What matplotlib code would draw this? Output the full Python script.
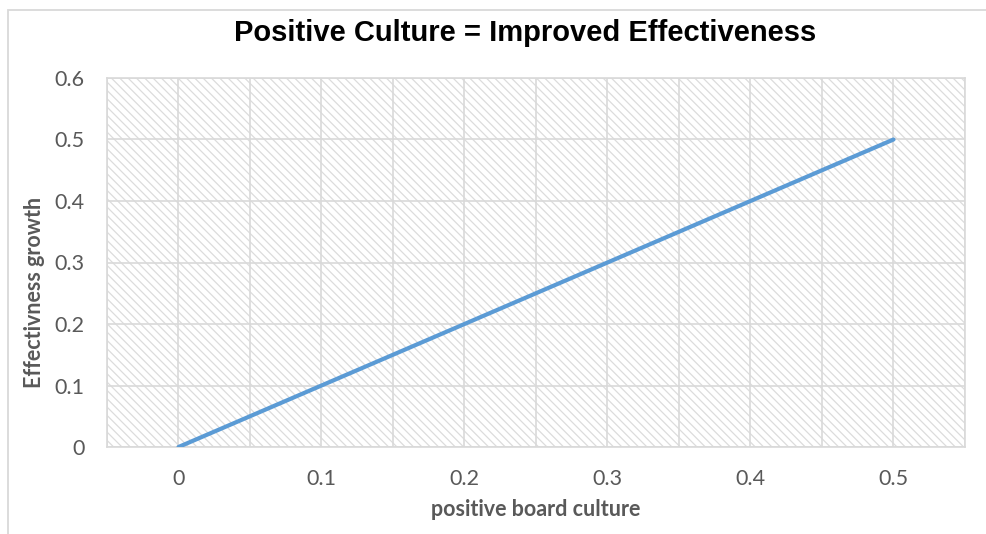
import matplotlib
matplotlib.use("Agg")
import matplotlib.pyplot as plt
import numpy as np
from matplotlib.patches import Rectangle

# data
culture = [0, 0.1, 0.2, 0.3, 0.4, 0.5]
growth = [0, 0.1, 0.2, 0.3, 0.4, 0.5]
xticks = [0, 0.1, 0.2, 0.3, 0.4, 0.5]
yticks = [0, 0.1, 0.2, 0.3, 0.4, 0.5, 0.6]

grid_col = '#d9d9d9'
text_col = '#595959'
plt.rcParams['hatch.color'] = '#dcdcdc'
plt.rcParams['hatch.linewidth'] = 0.9

fig = plt.figure(figsize=(9.87, 5.34), dpi=100)
ax = fig.add_axes([107/987, 87/534, 858/987, 369/534])

# hatched plot area
ax.add_patch(Rectangle((0, 0), 1, 1, transform=ax.transAxes, facecolor='white',
                       edgecolor='#dcdcdc', hatch='\\\\\\\\', linewidth=0, zorder=0))

ax.plot(culture, growth, color='#5B9BD5', linewidth=3.0, zorder=3,
        solid_capstyle='round')

ax.set_xlim(-0.05, 0.55)
ax.set_ylim(0, 0.6)
ax.set_xticks(np.arange(-0.05, 0.5501, 0.05), minor=True)
ax.set_xticks(xticks)
ax.set_xticklabels(['0', '0.1', '0.2', '0.3', '0.4', '0.5'])
ax.set_yticks(yticks)
ax.set_yticklabels(['0', '0.1', '0.2', '0.3', '0.4', '0.5', '0.6'])
ax.grid(True, which='both', axis='x', color=grid_col, linewidth=1.2, zorder=1)
ax.grid(True, which='major', axis='y', color=grid_col, linewidth=1.2, zorder=1)
ax.set_axisbelow(True)
ax.tick_params(which='both', length=0, labelsize=15.5, colors=text_col)
ax.tick_params(axis='x', pad=16)
ax.tick_params(axis='y', pad=16)
for lab in ax.get_xticklabels() + ax.get_yticklabels():
    lab.set_family('Lato')
for s in ax.spines.values():
    s.set_color(grid_col)
    s.set_linewidth(1.2)

ax.set_xlabel('positive board culture', fontsize=15.5, fontweight='bold',
              color=text_col, family='Lato')
ax.set_ylabel('Effectivness growth', fontsize=15.5, fontweight='bold',
              color=text_col, family='Lato')
ax.xaxis.set_label_coords(0.5, -0.17)
ax.yaxis.set_label_coords(-0.085, 0.42)
ax.xaxis.label.set_va('center')
ax.yaxis.label.set_va('center')

fig.text(0.532, 1 - 33/534, 'Positive Culture = Improved Effectiveness',
         ha='center', va='center', fontsize=21, fontweight='bold',
         family='Liberation Sans', color='black')

# outer chart border
fig.add_artist(Rectangle((8/987, -0.1), 1.2, (524/534) + 0.1,
                         transform=fig.transFigure, facecolor='none',
                         edgecolor=grid_col, linewidth=1.3))

fig.savefig('out.png', dpi=100)
